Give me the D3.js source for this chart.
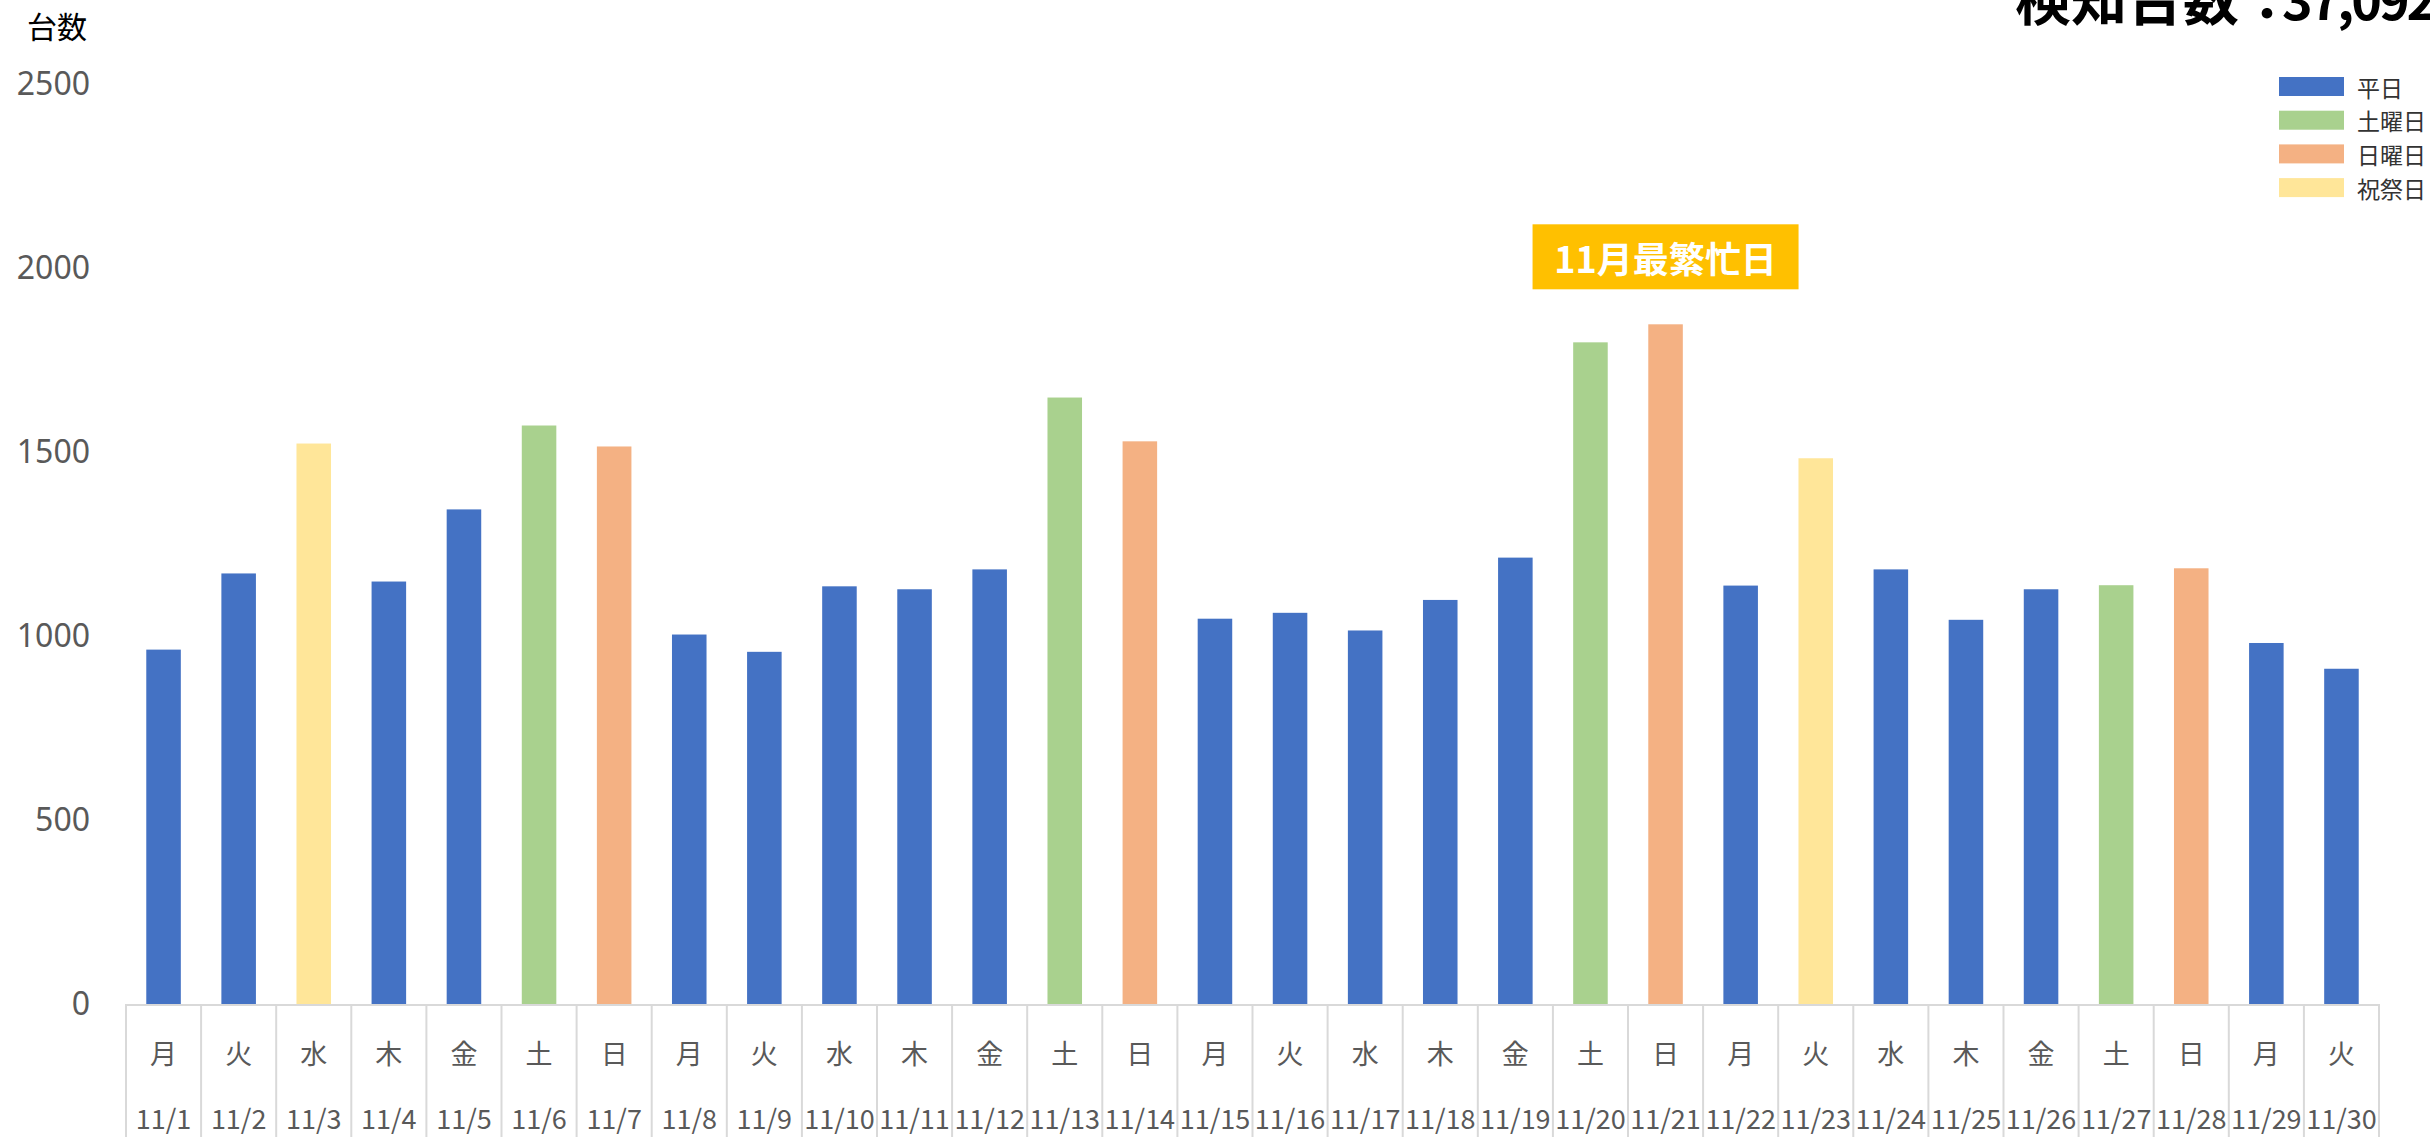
<!DOCTYPE html>
<html>
<head>
<meta charset="utf-8">
<script src="https://cdn.jsdelivr.net/npm/d3@7"></script>
<style>
  html, body { margin: 0; padding: 0; background: #fff; overflow: hidden; }
  svg { display: block; font-family: "Noto Sans CJK JP", "Noto Sans", sans-serif; }
</style>
</head>
<body>
<svg id="chart" width="2430" height="1137"></svg>
<script>
// ---- data ----
const dates = ["11/1","11/2","11/3","11/4","11/5","11/6","11/7","11/8","11/9","11/10",
  "11/11","11/12","11/13","11/14","11/15","11/16","11/17","11/18","11/19","11/20",
  "11/21","11/22","11/23","11/24","11/25","11/26","11/27","11/28","11/29","11/30"];
const weekdays = ["月","火","水","木","金","土","日","月","火","水",
  "木","金","土","日","月","火","水","木","金","土",
  "日","月","火","水","木","金","土","日","月","火"];
const dayTypes = ["平日","平日","祝祭日","平日","平日","土曜日","日曜日","平日","平日","平日",
  "平日","平日","土曜日","日曜日","平日","平日","平日","平日","平日","土曜日",
  "日曜日","平日","祝祭日","平日","平日","平日","土曜日","日曜日","平日","平日"];
const counts = [963, 1170, 1523, 1148, 1344, 1572, 1515, 1004, 957, 1135,
  1127, 1181, 1648, 1529, 1047, 1063, 1015, 1098, 1213, 1798,
  1847, 1137, 1483, 1181, 1044, 1127, 1138, 1184, 981, 911];
const legendLabels = ["平日","土曜日","日曜日","祝祭日"];
const legendColors = ["#4472C4","#A9D18E","#F4B183","#FFE699"];
const yTicks = [0, 500, 1000, 1500, 2000, 2500];
const titleLabel = "検知台数：";
const titleValue = "37,092";
const yAxisTitle = "台数";
const annotationText = "11月最繁忙日";

const data = dates.map((d, i) => ({date: d, wd: weekdays[i], type: dayTypes[i], value: counts[i]}));

// ---- layout ----
const svg = d3.select("#chart");
const plotLeft = 126, plotRight = 2379, plotBase = 1004, plotTop = 84, bottomEdge = 1137;

const x = d3.scaleBand().domain(dates).range([plotLeft, plotRight]).paddingInner(0.54).paddingOuter(0.27);
const y = d3.scaleLinear().domain([0, 2500]).range([plotBase, plotTop]);
const color = d3.scaleOrdinal().domain(legendLabels).range(legendColors);

// y-axis labels
const yAxis = d3.axisLeft(y).tickValues(yTicks).tickSize(0).tickPadding(0).tickFormat(d3.format("d"));
const yg = svg.append("g").attr("transform", `translate(90,0)`).call(yAxis);
yg.select(".domain").remove();
yg.selectAll("text").attr("font-size", 32).attr("fill", "#595959")
  .attr("font-family", '"Noto Sans", "Noto Sans CJK JP", sans-serif');

// y title
svg.append("text").attr("x", 27).attr("y", 38).attr("font-size", 30).attr("fill", "#000")
  .text(yAxisTitle);

// bars
svg.append("g").selectAll("rect").data(data).join("rect")
  .attr("x", d => x(d.date))
  .attr("y", d => y(d.value))
  .attr("width", x.bandwidth())
  .attr("height", d => plotBase - y(d.value))
  .attr("fill", d => color(d.type));

// x axis line + category separators
const step = x.step();
svg.append("line").attr("x1", plotLeft).attr("x2", plotRight).attr("y1", plotBase + 1).attr("y2", plotBase + 1)
  .attr("stroke", "#d9d9d9").attr("stroke-width", 2);
const sepIdx = d3.range(dates.length + 1);
svg.append("g").selectAll("line").data(sepIdx).join("line")
  .attr("x1", i => plotLeft + i * step).attr("x2", i => plotLeft + i * step)
  .attr("y1", plotBase).attr("y2", bottomEdge)
  .attr("stroke", "#d9d9d9").attr("stroke-width", 2);

// x labels
const xg = svg.append("g");
xg.selectAll("text.wd").data(data).join("text").attr("class", "wd")
  .attr("x", d => x(d.date) + x.bandwidth() / 2).attr("y", 1052)
  .attr("text-anchor", "middle").attr("dominant-baseline", "central")
  .attr("font-size", 27).attr("fill", "#595959").text(d => d.wd);
xg.selectAll("text.dt").data(data).join("text").attr("class", "dt")
  .attr("x", d => x(d.date) + x.bandwidth() / 2).attr("y", 1117)
  .attr("text-anchor", "middle").attr("dominant-baseline", "central")
  .attr("font-size", 27).attr("fill", "#595959").text(d => d.date);

// annotation over the busiest day
const maxD = data.reduce((a, b) => b.value > a.value ? b : a);
const ax = x(maxD.date) + x.bandwidth() / 2;
const boxBottom = y(maxD.value) - 35;
const boxW = 266, boxH = 65;
svg.append("rect").attr("x", ax - boxW / 2).attr("y", boxBottom - boxH)
  .attr("width", boxW).attr("height", boxH).attr("fill", "#FFC000");
svg.append("text").attr("x", ax).attr("y", boxBottom - boxH / 2)
  .attr("text-anchor", "middle").attr("dominant-baseline", "central")
  .attr("font-size", 36).attr("font-weight", "bold").attr("fill", "#fff")
  .text(annotationText);

// legend
const lg = svg.append("g");
legendLabels.forEach((lab, i) => {
  const cy = 86.5 + i * 33.7;
  lg.append("rect").attr("x", 2279).attr("y", cy - 9.5).attr("width", 65).attr("height", 19)
    .attr("fill", legendColors[i]);
  lg.append("text").attr("x", 2357).attr("y", cy).attr("dominant-baseline", "central")
    .attr("font-size", 23).attr("fill", "#333").text(lab);
});

// title (clipped at top/right as in reference)
const tt = svg.append("text").attr("y", 20)
  .attr("font-size", 56).attr("font-weight", "bold").attr("fill", "#000");
tt.append("tspan").attr("x", 2015).text(titleLabel);
tt.append("tspan").attr("x", 2282).attr("font-size", 52).attr("letter-spacing", -3).text(titleValue);
</script>
</body>
</html>
